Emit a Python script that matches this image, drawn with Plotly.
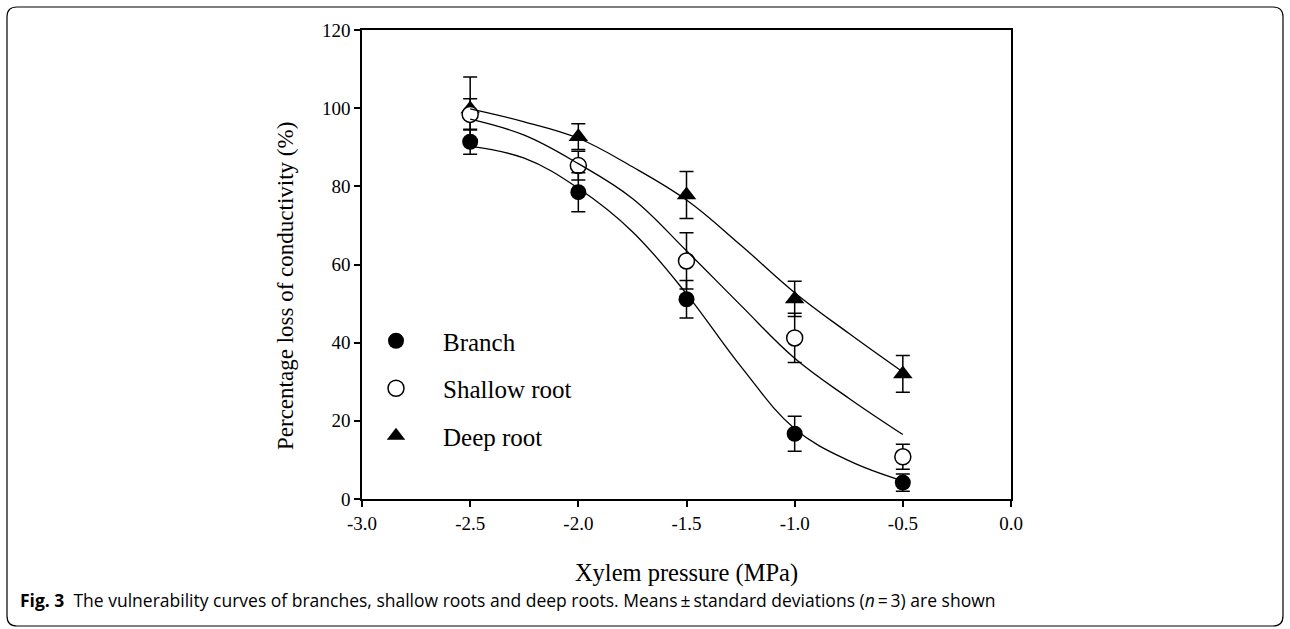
import plotly.graph_objects as go

# ---- data ----
pressure = [-2.5, -2.0, -1.5, -1.0, -0.5]
branch_mean = [91.4, 78.5, 51.1, 16.7, 4.2]
branch_sd = [3.2, 5.0, 4.8, 4.5, 2.2]
shallow_mean = [98.4, 85.3, 60.9, 41.2, 10.8]
shallow_sd = [4.0, 3.7, 7.2, 6.3, 3.2]
deep_mean = [99.8, 92.7, 77.8, 51.2, 32.0]
deep_sd = [8.2, 3.3, 6.0, 4.5, 4.7]

# fitted curves, values
curve_x = [-2.5, -2.25, -2.0, -1.75, -1.5, -1.25, -1.0, -0.75, -0.5]
branch_curve = [90.2, 87.2, 79.5, 68.4, 52.5, 34.0, 18.0, 9.8, 4.6]
shallow_curve = [97.2, 93.1, 85.8, 76.9, 63.5, 49.6, 36.0, 25.8, 16.5]
deep_curve = [99.8, 96.5, 92.3, 85.0, 76.5, 65.0, 52.8, 42.4, 32.5]

x_ticks = [-3.0, -2.5, -2.0, -1.5, -1.0, -0.5, 0.0]
y_ticks = [0, 20, 40, 60, 80, 100, 120]

W, H = 1290, 629
L, R, T, B = 362, 1011, 30, 499  # plot area in pixels

SERIF = "Liberation Serif, Times New Roman, serif"

fig = go.Figure()

def err(sd):
    return dict(type="data", array=sd, visible=True, color="black", thickness=1.5, width=7)

fig.add_trace(go.Scatter(
    x=pressure, y=deep_mean, mode="markers", name="Deep root", legendrank=3,
    legendgroup="c", error_y=err(deep_sd),
    marker=dict(symbol="triangle-up", size=17, color="black", line=dict(width=0))))
fig.add_trace(go.Scatter(
    x=pressure, y=shallow_mean, mode="markers", name="Shallow root", legendrank=2,
    legendgroup="b", error_y=err(shallow_sd),
    marker=dict(symbol="circle", size=16, color="white", line=dict(width=1.5, color="black"))))
fig.add_trace(go.Scatter(
    x=pressure, y=branch_mean, mode="markers", name="Branch", legendrank=1,
    legendgroup="a", error_y=err(branch_sd),
    marker=dict(symbol="circle", size=16, color="black", line=dict(width=0))))

for cy in (deep_curve, shallow_curve, branch_curve):
    fig.add_trace(go.Scatter(x=curve_x, y=cy, mode="lines", showlegend=False,
                             line=dict(color="black", width=1.3, shape="spline", smoothing=1.1),
                             hoverinfo="skip"))

def px(xp):
    return (xp - L) / (R - L)

def py(yp):
    return (B - yp) / (B - T)

# rounded frame around the figure
x0, x1, y0, y1, r = 7, 1283, 7, 626, 10
path = (f"M {px(x0)},{py(y1 - r)} L {px(x0)},{py(y0 + r)} "
        f"Q {px(x0)},{py(y0)} {px(x0 + r)},{py(y0)} "
        f"L {px(x1 - r)},{py(y0)} Q {px(x1)},{py(y0)} {px(x1)},{py(y0 + r)} "
        f"L {px(x1)},{py(y1 - r)} Q {px(x1)},{py(y1)} {px(x1 - r)},{py(y1)} "
        f"L {px(x0 + r)},{py(y1)} Q {px(x0)},{py(y1)} {px(x0)},{py(y1 - r)} Z")

fig.update_layout(
    width=W, height=H,
    margin=dict(l=L, r=W - R, t=T, b=H - B),
    paper_bgcolor="white", plot_bgcolor="white",
    font=dict(family=SERIF, color="black", size=19),
    showlegend=True,
    legend=dict(x=px(349), y=py(318), xanchor="left", yanchor="top",
                font=dict(family=SERIF, size=25, color="black"),
                bgcolor="rgba(0,0,0,0)", tracegroupgap=12, itemwidth=84,
                traceorder="grouped"),
    xaxis=dict(range=[-3, 0], tickvals=x_ticks, ticktext=[f"{v:.1f}" for v in x_ticks],
               showgrid=False, zeroline=False, showline=True, linecolor="black", linewidth=1.5,
               mirror=True, ticks="outside", ticklen=6, tickwidth=1.5, tickcolor="black",
               tickfont=dict(family=SERIF, size=19),
               title=dict(text="Xylem pressure (MPa)", font=dict(family=SERIF, size=24.5), standoff=31)),
    yaxis=dict(range=[0, 120], tickvals=y_ticks,
               showgrid=False, zeroline=False, showline=True, linecolor="black", linewidth=1.5,
               mirror=True, ticks="outside", ticklen=6, tickwidth=1.5, tickcolor="black",
               tickfont=dict(family=SERIF, size=19)),
    shapes=[dict(type="path", xref="paper", yref="paper", path=path,
                 line=dict(color="black", width=1.2), fillcolor="rgba(0,0,0,0)", layer="below")],
    annotations=[
        dict(xref="paper", yref="paper", x=px(285), y=py(286), xanchor="center", yanchor="middle",
             showarrow=False, textangle=-90, text="Percentage loss of conductivity (%)",
             font=dict(family=SERIF, size=23, color="black")),
        dict(xref="paper", yref="paper", x=px(18), y=py(600), xanchor="left", yanchor="middle",
             showarrow=False, align="left",
             text="<b>Fig. 3</b>  The vulnerability curves of branches, shallow roots and deep roots. "
                  "Means\u2009±\u2009standard deviations (<i>n</i>\u2009=\u20093) are shown",
             font=dict(family="Open Sans, Noto Sans, sans-serif", size=17.5, color="black"))],
)

fig.write_html("out.html", config={"displayModeBar": False},
               post_script="document.body.style.margin='0';document.body.style.overflow='hidden';")
